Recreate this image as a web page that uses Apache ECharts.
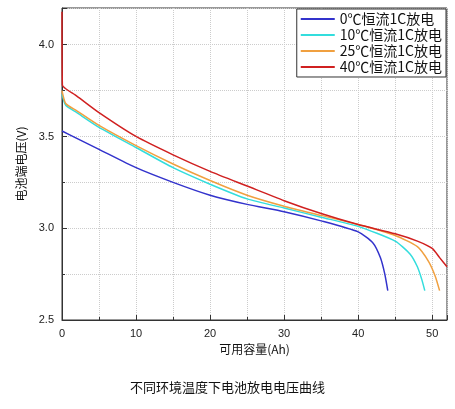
<!DOCTYPE html>
<html><head><meta charset="utf-8">
<script src="https://cdn.jsdelivr.net/npm/echarts@6/dist/echarts.min.js"></script>
<style>body{margin:0;background:#fff}#c{width:455px;height:409px}</style>
</head><body><div id="c"></div>
<script>
const names = ['0℃恒流1C放电', '10℃恒流1C放电', '25℃恒流1C放电', '40℃恒流1C放电'];
const colors = ['#3333cc', '#33dddd', '#f0a040', '#d02020'];
const d0 = [[0,3.53],[2,3.49],[5,3.43],[10,3.33],[15,3.25],[20,3.18],[25,3.13],[30,3.09],[35,3.04],[40,2.98],[42,2.92],[43,2.84],[43.6,2.75],[44,2.66]];
const d10 = [[0,3.73],[0.5,3.67],[2,3.63],[5,3.55],[10,3.44],[15,3.33],[20,3.24],[25,3.16],[30,3.11],[35,3.06],[40,3.01],[45,2.93],[47,2.86],[48,2.79],[48.6,2.72],[49,2.66]];
const d25 = [[0,3.75],[0.5,3.68],[2,3.64],[5,3.56],[10,3.45],[15,3.35],[20,3.26],[25,3.18],[30,3.12],[35,3.07],[40,3.02],[45,2.96],[48,2.90],[49.5,2.82],[50.4,2.74],[51,2.66]];
const d40 = [[0,4.18],[0.05,3.78],[0.5,3.76],[2,3.72],[5,3.63],[10,3.50],[15,3.40],[20,3.31],[25,3.23],[30,3.15],[35,3.08],[40,3.02],[45,2.97],[48,2.93],[50,2.89],[51,2.84],[52,2.79]];
const series = [d0, d10, d25, d40];

const ch = echarts.init(document.getElementById('c'));
const grid = {show:true, lineStyle:{color:'#ccc', type:'dotted'}};
ch.setOption({
  animation: false,
  title: {text:'不同环境温度下电池放电电压曲线', left:'center', bottom:10,
    textStyle:{fontSize:13, fontWeight:'normal', color:'#111', fontFamily:'Noto Sans CJK SC'}},
  legend: {orient:'vertical', right:9, top:9, itemGap:2, itemWidth:34, itemHeight:2, icon:'rect',
    backgroundColor:'#fff', borderColor:'#333', borderWidth:1, padding:[3,4],
    textStyle:{fontSize:14, color:'#111', fontFamily:'Noto Sans CJK SC'}, data:names},
  grid: {left:62, right:8, top:8, bottom:89, show:true, borderColor:'#333', borderWidth:1},
  xAxis: {type:'value', min:0, max:52, interval:10, name:'可用容量(Ah)', nameLocation:'middle', nameGap:22,
    nameTextStyle:{fontSize:12, color:'#111', fontFamily:'Noto Sans CJK SC'},
    axisLine:{lineStyle:{color:'#333'}}, axisTick:{inside:true}, minorTick:{show:true, splitNumber:2},
    axisLabel:{color:'#222', fontSize:11, showMaxLabel:false}, splitLine:grid, minorSplitLine:grid},
  yAxis: {type:'value', min:2.5, max:4.2, interval:0.5, name:'电池端电压(V)', nameLocation:'middle', nameGap:32,
    nameTextStyle:{fontSize:12, color:'#111', fontFamily:'Noto Sans CJK SC'},
    axisLine:{lineStyle:{color:'#333'}}, axisTick:{inside:true}, minorTick:{show:true, splitNumber:2},
    axisLabel:{color:'#222', fontSize:11, showMaxLabel:false, formatter:v=>v.toFixed(1)}, splitLine:grid, minorSplitLine:grid},
  series: series.map((d,i)=>({name:names[i], type:'line', data:d, showSymbol:false, smooth:0.2,
    lineStyle:{width:1.5, color:colors[i]}, itemStyle:{color:colors[i]}}))
});
</script></body></html>
